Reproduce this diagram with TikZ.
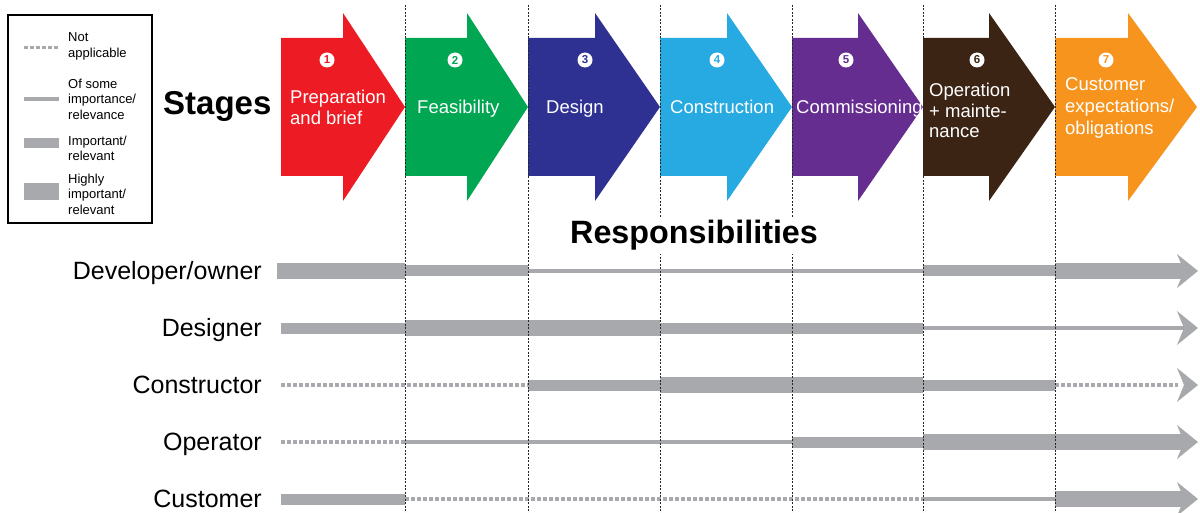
\documentclass[tikz,border=0pt]{standalone}
\usepackage{fontspec}
\setmainfont{Liberation Sans}
\definecolor{cA}{HTML}{ED1C24}
\definecolor{cB}{HTML}{00A651}
\definecolor{cC}{HTML}{2E3192}
\definecolor{cD}{HTML}{27AAE1}
\definecolor{cE}{HTML}{662D91}
\definecolor{cF}{HTML}{3C2415}
\definecolor{cG}{HTML}{F7941D}
\definecolor{barg}{HTML}{A7A9AC}
\newcommand\stagearr[4]{\fill[#4] (#1,38) -- (#2,38) -- (#2,13) -- (#3,107) -- (#2,201) -- (#2,176) -- (#1,176) -- cycle;}
\newcommand\segH[3]{\fill[barg] (#1,#3-8) rectangle (#2,#3+8);}
\newcommand\segI[3]{\fill[barg] (#1,#3-5.5) rectangle (#2,#3+5.5);}
\newcommand\segS[3]{\fill[barg] (#1,#3-2) rectangle (#2,#3+2);}
\newcommand\segD[3]{\draw[barg, line width=4, dash pattern=on 4 off 2] (#1,#3) -- (#2,#3);}
\newcommand\segHead[1]{\fill[barg] (1177,#1-17) -- (1198,#1) -- (1177,#1+17) -- (1184,#1) -- cycle;}
\tikzset{
  numc/.style={circle, fill=white, inner sep=0pt, minimum size=15pt, font=\fontsize{11.5}{11.5}\selectfont\bfseries},
  stagelbl/.style={anchor=base west, align=left, inner sep=0pt, text=white, font=\fontsize{18.5}{21}\selectfont},
  rowlbl/.style={anchor=base east, inner sep=0pt, font=\fontsize{25}{27}\selectfont},
  leglbl/.style={anchor=west, align=left, inner sep=0pt, font=\fontsize{13}{15.5}\selectfont},
  vline/.style={black!85, line width=1, dash pattern=on 2 off 1.5}
}
\begin{document}
\begin{tikzpicture}[x=1pt,y=-1pt]
\useasboundingbox (0,0) rectangle (1200,513);
% stage arrows
\stagearr{281}{343}{405}{cA}
\stagearr{405}{467}{528}{cB}
\stagearr{528}{595}{660}{cC}
\stagearr{660}{727}{792}{cD}
\stagearr{792}{858}{923}{cE}
\stagearr{923}{989}{1055}{cF}
\stagearr{1055}{1128}{1197}{cG}
% numbers
\node[numc, text=cA] (n1) at (327,60) {1};
\node[numc, text=cB] (n2) at (455,60) {2};
\node[numc, text=cC] (n3) at (585,60) {3};
\node[numc, text=cD] (n4) at (717,60) {4};
\node[numc, text=cE] (n5) at (846,60) {5};
\node[numc, text=cF] (n6) at (977,60) {6};
\node[numc, text=cG] (n7) at (1106,60) {7};
% stage labels (base = last line baseline)
\node[stagelbl] (s1) at (290,124.5) {Preparation\\and brief};
\node[stagelbl] (s2) at (417,113.5) {Feasibility};
\node[stagelbl] (s3) at (546,113.5) {Design};
\node[stagelbl] (s4) at (670,113.5) {Construction};
\node[stagelbl] (s5) at (796,113.5) {Commissioning};
\node[stagelbl, font=\fontsize{18.5}{20.5}\selectfont] (s6) at (929,138) {Operation\\+ mainte-\\nance};
\node[stagelbl, font=\fontsize{18.5}{22}\selectfont] (s7) at (1065,135) {Customer\\expectations/\\obligations};
% Stages title
\node[anchor=base west, inner sep=0pt, font=\fontsize{33}{36}\selectfont\bfseries] (stages) at (163,115) {Stages};
% legend
\draw[line width=2] (8,15) rectangle (152,223);
\draw[barg, line width=3, dash pattern=on 4 off 2] (24,48) -- (59,48);
\fill[barg] (24,97.5) rectangle (59,101);
\fill[barg] (24,138) rectangle (59,148);
\fill[barg] (24,183.5) rectangle (59,200.5);
\node[leglbl] (l1) at (68,46.5) {Not\\applicable};
\node[leglbl] (l2) at (68,99) {Of some\\importance/\\relevance};
\node[leglbl] (l3) at (68,148.5) {Important/\\relevant};
\node[leglbl] (l4) at (68,194) {Highly\\important/\\relevant};
% row labels
\node[rowlbl] (r1) at (262,279.5) {Developer/owner};
\node[rowlbl] (r2) at (262,336.5) {Designer};
\node[rowlbl] (r3) at (262,393.5) {Constructor};
\node[rowlbl] (r4) at (262,450.5) {Operator};
\node[rowlbl] (r5) at (262,507.5) {Customer};
% row 1
\segH{277}{405}{271}\segI{405}{528}{271}\segS{528}{923}{271}\segI{923}{1055}{271}\segH{1055}{1184}{271}\segHead{271}
% row 2
\segI{281}{405}{328}\segH{405}{660}{328}\segI{660}{923}{328}\segS{923}{1184}{328}\segHead{328}
% row 3
\segD{281}{528}{385}\segI{528}{660}{385}\segH{660}{923}{385}\segI{923}{1055}{385}\segD{1055}{1178}{385}\segHead{385}
% row 4
\segD{281}{405}{442}\segS{405}{792}{442}\segI{792}{923}{442}\segH{923}{1184}{442}\segHead{442}
% row 5
\segI{281}{405}{499}\segD{405}{923}{499}\segS{923}{1055}{499}\segH{1055}{1184}{499}\segHead{499}
% vertical separators
\foreach \vx in {405,528,660,792,923,1055} {\draw[vline] (\vx,5) -- (\vx,513);}
% responsibilities
\node[anchor=base west, fill=white, inner sep=3pt, font=\fontsize{32.3}{34}\selectfont\bfseries] (resp) at (567,244) {Responsibilities};
\end{tikzpicture}
\end{document}
